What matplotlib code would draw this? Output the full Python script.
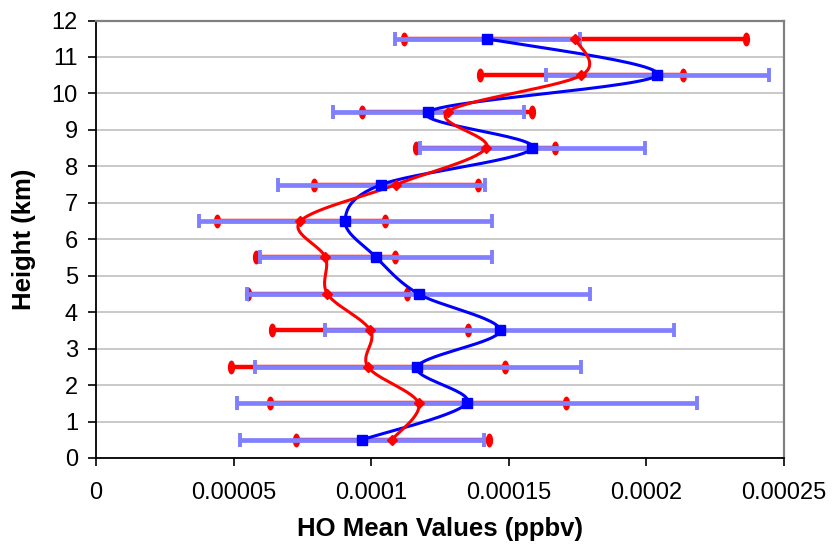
import numpy as np
import matplotlib
matplotlib.use("Agg")
import matplotlib.pyplot as plt
from matplotlib.path import Path

plt.rcParams['font.family'] = ['Liberation Sans', 'DejaVu Sans']

# heights (km) and HO values (ppbv)
heights = [0.5, 1.5, 2.5, 3.5, 4.5, 5.5, 6.5, 7.5, 8.5, 9.5, 10.5, 11.5]
blue_mean = [9.67e-5, 13.47e-5, 11.67e-5, 14.68e-5, 11.72e-5, 10.19e-5,
             9.05e-5, 10.37e-5, 15.86e-5, 12.08e-5, 20.39e-5, 14.21e-5]
blue_lo = [5.24e-5, 5.11e-5, 5.77e-5, 8.34e-5, 5.50e-5, 5.96e-5,
           3.74e-5, 6.60e-5, 11.76e-5, 8.62e-5, 16.35e-5, 10.86e-5]
blue_hi = [14.11e-5, 21.84e-5, 17.61e-5, 21.00e-5, 17.95e-5, 14.40e-5,
           14.40e-5, 14.12e-5, 19.95e-5, 15.57e-5, 24.44e-5, 17.57e-5]
red_mean = [10.75e-5, 11.72e-5, 9.88e-5, 9.97e-5, 8.41e-5, 8.34e-5,
            7.43e-5, 10.89e-5, 14.17e-5, 12.78e-5, 17.64e-5, 17.41e-5]
red_lo = [7.26e-5, 6.32e-5, 4.92e-5, 6.41e-5, 5.54e-5, 5.82e-5,
          4.40e-5, 7.93e-5, 11.64e-5, 9.68e-5, 13.94e-5, 11.18e-5]
red_hi = [14.29e-5, 17.09e-5, 14.87e-5, 13.53e-5, 11.31e-5, 10.85e-5,
          10.49e-5, 13.87e-5, 16.68e-5, 15.86e-5, 21.33e-5, 23.63e-5]

x_ticks = [0, 0.00005, 0.0001, 0.00015, 0.0002, 0.00025]
x_tick_labels = ["0", "0.00005", "0.0001", "0.00015", "0.0002", "0.00025"]
y_ticks = list(range(0, 13))

BLUE = "#0000FF"
LIGHT_BLUE = "#8080FF"
RED = "#FF0000"


def smooth(ax, xs, ys, n=30):
    # excel-like smoothed line: bezier through points, done in display space
    pts = ax.transData.transform(np.column_stack([xs, ys]))
    p = np.vstack([pts[0], pts, pts[-1]])
    out = []
    t = np.linspace(0, 1, n)[:, None]
    for i in range(1, len(p) - 2):
        p0, p1, p2, p3 = p[i - 1], p[i], p[i + 1], p[i + 2]
        b1 = p1 + (p2 - p0) / 6.0
        b2 = p2 - (p3 - p1) / 6.0
        seg = ((1 - t) ** 3) * p1 + 3 * ((1 - t) ** 2) * t * b1 \
            + 3 * (1 - t) * t ** 2 * b2 + t ** 3 * p2
        out.append(seg)
    out = np.vstack(out)
    return ax.transData.inverted().transform(out)


fig = plt.figure(figsize=(8.33, 5.49), dpi=100)
ax = fig.add_axes([0.1152, 0.1658, 0.8260, 0.7968])
ax.set_xlim(0, 0.00025)
ax.set_ylim(0, 12)

ax.yaxis.grid(True, color="#C0C0C0", linewidth=1.2)
ax.set_axisbelow(True)

# red error bars (underneath)
red_mean_a = np.array(red_mean)
red_err = [red_mean_a - np.array(red_lo), np.array(red_hi) - red_mean_a]
ax.errorbar(red_mean, heights, xerr=red_err, fmt="none", ecolor=RED,
            elinewidth=3.2, capsize=0, zorder=2)
theta = np.linspace(0, 2 * np.pi, 40)
ellipse = Path(np.column_stack([0.26 * np.cos(theta), 0.5 * np.sin(theta)]))
ax.plot(red_lo + red_hi, heights + heights, linestyle="none", marker=ellipse,
        markersize=10, color=RED, markeredgewidth=0, zorder=2)

# blue error bars
blue_mean_a = np.array(blue_mean)
blue_err = [blue_mean_a - np.array(blue_lo), np.array(blue_hi) - blue_mean_a]
ax.errorbar(blue_mean, heights, xerr=blue_err, fmt="none", ecolor=LIGHT_BLUE,
            elinewidth=3.4, capsize=4.8, capthick=2.8, zorder=3)

# smoothed mean profiles
bx = smooth(ax, blue_mean, heights)
ax.plot(bx[:, 0], bx[:, 1], color=BLUE, linewidth=2.2, zorder=4)
ax.plot(blue_mean, heights, linestyle="none", marker="s", markersize=6.5,
        color=BLUE, zorder=5)
rx = smooth(ax, red_mean, heights)
ax.plot(rx[:, 0], rx[:, 1], color=RED, linewidth=2.2, zorder=4)
ax.plot(red_mean, heights, linestyle="none", marker="D", markersize=5.5,
        color=RED, zorder=5)

ax.set_xticks(x_ticks)
ax.set_xticklabels(x_tick_labels)
ax.set_yticks(y_ticks)
ax.tick_params(axis="both", direction="out", length=6, width=1.2,
               labelsize=17, colors="black")
ax.tick_params(axis="y", pad=7)
ax.tick_params(axis="x", pad=11)

for side in ["left", "bottom"]:
    ax.spines[side].set_color("black")
    ax.spines[side].set_linewidth(1.3)
for side in ["top", "right"]:
    ax.spines[side].set_color("#808080")
    ax.spines[side].set_linewidth(1.6)

ax.set_xlabel("HO Mean Values (ppbv)", fontsize=18.5, fontweight="bold",
              labelpad=10)
ax.set_ylabel("Height (km)", fontsize=18.5, fontweight="bold", labelpad=11)

fig.savefig("out.png", dpi=100)
